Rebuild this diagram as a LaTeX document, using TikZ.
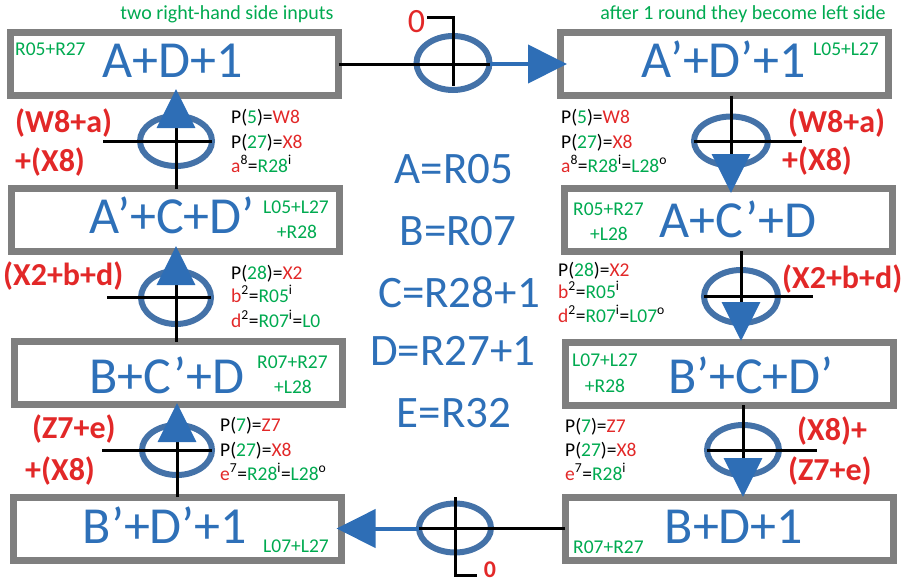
\documentclass[tikz,border=0pt]{standalone}
\usepackage{fontspec}
\setmainfont{Carlito}
\usetikzlibrary{arrows.meta,shapes.geometric,calc}
\definecolor{boxgray}{RGB}{127,127,127}
\definecolor{ellblue}{RGB}{68,114,168}
\definecolor{arrowblue}{RGB}{46,110,182}
\definecolor{tblue}{RGB}{46,112,184}
\definecolor{tgreen}{RGB}{0,170,80}
\definecolor{tred}{RGB}{226,40,40}
\newcommand\GN[1]{\textcolor{tgreen}{#1}}
\newcommand\RD[1]{\textcolor{tred}{#1}}
\newcommand\SP[1]{\textsuperscript{#1}}
\tikzset{
 box/.style={draw=boxgray, line width=7pt, minimum width=328pt, minimum height=63pt, inner sep=0pt, outer sep=0pt},
 xor/.style={ellipse, draw=ellblue, line width=6pt, inner sep=0pt, outer sep=0pt},
 big/.style={text=tblue, font=\fontsize{52}{52}\selectfont, anchor=base, inner sep=0pt},
 eqn/.style={text=tblue, font=\fontsize{45}{45}\selectfont, anchor=base, inner sep=0pt},
 tag/.style={text=tgreen, font=\fontsize{19.5}{19.5}\selectfont, anchor=base west, inner sep=0pt},
 tagc/.style={text=tgreen, font=\fontsize{19.5}{19.5}\selectfont, anchor=base, inner sep=0pt},
 note/.style={font=\fontsize{19.5}{19.5}\selectfont, anchor=base west, inner sep=0pt},
 inp/.style={text=tred, font=\bfseries\fontsize{32}{32}\selectfont, anchor=base west, inner sep=0pt},
 hdr/.style={text=tgreen, font=\fontsize{20}{20}\selectfont, anchor=base, inner sep=0pt},
 wire/.style={black, line width=3pt},
 bwire/.style={arrowblue, line width=4pt},
 tipv/.style={-{Triangle[length=39pt,width=38pt,color=arrowblue]}},
}
\begin{document}
\begin{tikzpicture}[x=1pt,y=-1pt]
\useasboundingbox (0,0) rectangle (910,582);
% boxes
\node[box] (L1) at (174.5,64) {};
\node[box] (L2) at (175.5,220) {};
\node[box] (L3) at (178,373) {};
\node[box] (L4) at (177,528.5) {};
\node[box] (R1) at (724.5,64) {};
\node[box] (R2) at (728.5,219.5) {};
\node[box] (R3) at (729,373.5) {};
\node[box] (R4) at (729,528.5) {};
% xor ellipses
\node[xor, minimum width=72pt, minimum height=50pt] (XL1) at (176,141) {};
\node[xor, minimum width=70pt, minimum height=53pt] (XL2) at (176,297.5) {};
\node[xor, minimum width=70pt, minimum height=50pt] (XL3) at (177,450) {};
\node[xor, minimum width=74pt, minimum height=49pt] (XR1) at (731,141) {};
\node[xor, minimum width=74pt, minimum height=53pt] (XR2) at (741,296.5) {};
\node[xor, minimum width=72pt, minimum height=50pt] (XR3) at (743,450) {};
\node[xor, minimum width=73pt, minimum height=54pt] (XT) at (453,63) {};
\node[xor, minimum width=72pt, minimum height=49pt] (XB) at (455,528) {};
% free ends
\coordinate (inL1) at (103,141);
\coordinate (inL2) at (107,297.5);
\coordinate (inL3) at (102,450);
\coordinate (inR1) at (802,141);
\coordinate (inR2) at (813,296.5);
\coordinate (inR3) at (817,450);
\coordinate (c1) at (427,17);
\coordinate (c2) at (477,575);
% side inputs
\draw[wire] (inL1) -- (XL1.east);
\draw[wire] (inL2) -- (XL2.east);
\draw[wire] (inL3) -- (XL3.east);
\draw[wire] (XR1.west) -- (inR1);
\draw[wire] (XR2.west) -- (inR2);
\draw[wire] (XR3.west) -- (inR3);
% vertical arrows
\draw[wire, tipv] (XL1 |- L2.north) -- ($(XL1 |- L1.south)+(0,-6.5)$);
\draw[wire, tipv] (XL2 |- L3.north) -- ($(XL2 |- L2.south)+(0,-5.5)$);
\draw[wire, tipv] (XL3 |- L4.north) -- ($(XL3 |- L3.south)+(0,-1.5)$);
\draw[wire, tipv] (XR1 |- R1.south) -- ($(XR1 |- R2.north)+(0,5)$);
\draw[wire, tipv] (XR2 |- R2.south) -- ($(XR2 |- R3.north)+(0,-1)$);
\draw[wire, tipv] (XR3 |- R3.south) -- (XR3 |- R4.north);
% top and bottom crossings
\draw[wire] (L1.east) -- (L1.east -| XT.east);
\draw[bwire, tipv] (L1.east -| XT.east) -- ($(R1.west)+(6.5,0)$);
\draw[wire] (c1) -| ($(XT.south)+(0,-4)$);
\draw[wire] (R4.west) -- (R4.west -| XB.west);
\draw[bwire, tipv] (R4.west -| XB.west) -- ($(L4.east)+(-4.5,0)$);
\draw[wire] ($(XB.north)+(0,-6.5)$) |- (c2);
\node[text=tred, font=\fontsize{34}{34}\selectfont, anchor=base, inner sep=0pt] (zero1) at (416.5,32) {0};
\node[text=tred, font=\bfseries\fontsize{24}{24}\selectfont, anchor=base, inner sep=0pt] (zero2) at (490,577) {0};
% headers
\node[hdr] (h1) at (227,19) {two right-hand side inputs};
\node[hdr] (h2) at (743,19) {after 1 round they become left side};
% box texts
\node[big] (tL1) at (173,77) {A+D+1};
\node[big] (tR1) at (724,77) {A’+D’+1};
\node[big] (tL2) at (172,233) {A’+C+D’};
\node[big] (tR2) at (738,237) {A+C’+D};
\node[big] (tL3) at (167,393) {B+C’+D};
\node[big] (tR3) at (751,393) {B’+C+D’};
\node[big] (tL4) at (165,543) {B’+D’+1};
\node[big] (tR4) at (734,543) {B+D+1};
% green tags
\node[tag] (gL1) at (15,55) {R05+R27};
\node[tag] (gR1) at (813,55) {L05+L27};
\node[tag] (gL2) at (263,213) {L05+L27};
\node[tagc] (gL2b) at (297,238) {+R28};
\node[tag] (gR2) at (573,215) {R05+R27};
\node[tagc] (gR2b) at (609,240) {+L28};
\node[tag] (gL3) at (257,368) {R07+R27};
\node[tagc] (gL3b) at (293,393) {+L28};
\node[tag] (gR3) at (572,366) {L07+L27};
\node[tagc] (gR3b) at (605,392) {+R28};
\node[tag] (gL4) at (263,552) {L07+L27};
\node[tag] (gR4) at (573,553) {R07+R27};
% centre equations
\node[eqn] (eA) at (454,183) {A=R05};
\node[eqn] (eB) at (458,245) {B=R07};
\node[eqn] (eC) at (459,307) {C=R28+1};
\node[eqn] (eD) at (453,365) {D=R27+1};
\node[eqn] (eE) at (454,427) {E=R32};
% notes left 1
\node[note] (nL1a) at (231,123) {P(\GN{5})=\RD{W8}};
\node[note] (nL1b) at (231,148) {P(\GN{27})=\RD{X8}};
\node[note] (nL1c) at (231,172) {\RD{a}\SP{8}=\GN{R28}\SP{i}};
% notes right 1
\node[note] (nR1a) at (561,123) {P(\GN{5})=\RD{W8}};
\node[note] (nR1b) at (561,148) {P(\GN{27})=\RD{X8}};
\node[note] (nR1c) at (561,172) {\RD{a}\SP{8}=\GN{R28}\SP{i}=\GN{L28}\SP{o}};
% notes left 2
\node[note] (nL2a) at (231,279) {P(\GN{28})=\RD{X2}};
\node[note] (nL2b) at (231,302) {\RD{b}\SP{2}=\GN{R05}\SP{i}};
\node[note] (nL2c) at (231,327) {\RD{d}\SP{2}=\GN{R07}\SP{i}=\GN{L0}};
% notes right 2
\node[note] (nR2a) at (558,276) {P(\GN{28})=\RD{X2}};
\node[note] (nR2b) at (558,298) {\RD{b}\SP{2}=\GN{R05}\SP{i}};
\node[note] (nR2c) at (558,322) {\RD{d}\SP{2}=\GN{R07}\SP{i}=\GN{L07}\SP{o}};
% notes left 3
\node[note] (nL3a) at (220,431) {P(\GN{7})=\RD{Z7}};
\node[note] (nL3b) at (220,456) {P(\GN{27})=\RD{X8}};
\node[note] (nL3c) at (220,480) {\RD{e}\SP{7}=\GN{R28}\SP{i}=\GN{L28}\SP{o}};
% notes right 3
\node[note] (nR3a) at (565,432) {P(\GN{7})=\RD{Z7}};
\node[note] (nR3b) at (565,456) {P(\GN{27})=\RD{X8}};
\node[note] (nR3c) at (565,480) {\RD{e}\SP{7}=\GN{R28}\SP{i}};
% red inputs
\node[inp] (iL1a) at (15,132) {(W8+a)};
\node[inp] (iL1b) at (15,171) {+(X8)};
\node[inp] (iR1a) at (788,132) {(W8+a)};
\node[inp] (iR1b) at (782,170) {+(X8)};
\node[inp] (iL2) at (3,285) {(X2+b+d)};
\node[inp] (iR2) at (782,288) {(X2+b+d)};
\node[inp] (iL3a) at (32,438) {(Z7+e)};
\node[inp] (iL3b) at (25,480) {+(X8)};
\node[inp] (iR3a) at (797,440) {(X8)+};
\node[inp] (iR3b) at (788,480) {(Z7+e)};
\end{tikzpicture}
\end{document}
